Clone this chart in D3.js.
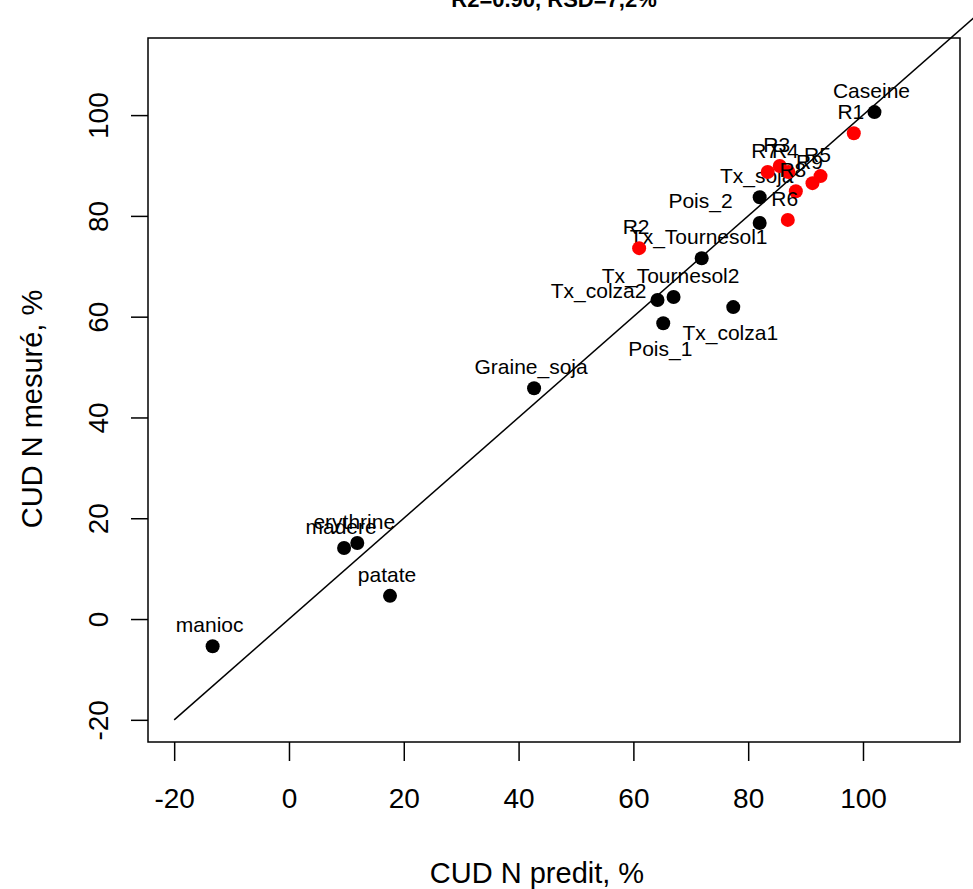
<!DOCTYPE html>
<html>
<head>
<meta charset="utf-8">
<script src="https://cdn.jsdelivr.net/npm/d3@7"></script>
<style>
  body { margin: 0; background: #fff; }
  text { font-family: "Liberation Sans", Arial, sans-serif; fill: #000; }
</style>
</head>
<body>
<div class="render"></div>
<script>
// Aliments (points noirs)
var alimNames = ["Caseine", "Tx_soja", "Pois_2", "Tx_Tournesol1", "Tx_Tournesol2", "Tx_colza2",
                 "Tx_colza1", "Pois_1", "Graine_soja", "erythrine", "madere", "patate", "manioc"];
var alimPred = [102.0, 82.0, 82.0, 71.9, 67.0, 64.2, 77.4, 65.2, 42.7, 11.9, 9.6, 17.6, -13.3];
var alimMes  = [100.6, 83.7, 78.6, 71.6, 63.9, 63.3, 61.9, 58.7, 45.8, 15.1, 14.1, 4.6, -5.4];
// label position, R style: 1 below, 2 left, 3 above, 5 up-left
var alimPos  = [3, 3, 5, 3, 3, 2, 1, 1, 3, 3, 3, 3, 3];

// Regimes (points rouges)
var regNames = ["R1", "R2", "R3", "R4", "R5", "R6", "R7", "R8", "R9"];
var regPred  = [98.4, 61.0, 85.5, 87.0, 92.6, 86.9, 83.4, 88.3, 91.2];
var regMes   = [96.4, 73.6, 89.9, 88.7, 87.9, 79.2, 88.7, 84.9, 86.5];

var xTicks = [-20, 0, 20, 40, 60, 80, 100];
var yTicks = [-20, 0, 20, 40, 60, 80, 100];
var lineEnds = [-20, 125];

var title = "R2=0.90, RSD=7,2%";
var xTitle = "CUD N predit, %";
var yTitle = "CUD N mesuré, %";

var W = 973, H = 889;
var box = {left: 148, right: 960, top: 38, bottom: 742};

var x = d3.scaleLinear().domain([-24.56, 116.9]).range([box.left, box.right]);
var y = d3.scaleLinear().domain([-24.4, 115.3]).range([box.bottom, box.top]);

var svg = d3.select(".render").append("svg")
    .attr("width", W)
    .attr("height", H);

// title (cut at the top of the picture)
svg.append("text")
    .attr("x", (box.left + box.right) / 2)
    .attr("y", 7)
    .attr("text-anchor", "middle")
    .attr("font-weight", "bold")
    .attr("font-size", 22)
    .text(title);

// axes
var xAxis = svg.append("g")
    .attr("transform", "translate(0," + box.bottom + ")")
    .call(d3.axisBottom(x).tickValues(xTicks).tickSize(19).tickFormat(String));
var yAxis = svg.append("g")
    .attr("transform", "translate(" + box.left + ",0)")
    .call(d3.axisLeft(y).tickValues(yTicks).tickSize(17).tickFormat(String));

[xAxis, yAxis].forEach(function (g) {
    g.select(".domain").remove();
    g.selectAll(".tick line").attr("stroke", "#000").attr("stroke-width", 1.5);
    g.selectAll(".tick text").attr("font-size", 28).attr("fill", "#000")
        .style("font-family", "'Liberation Sans', Arial, sans-serif");
});
xAxis.selectAll(".tick text").attr("dy", null).attr("y", 66);
yAxis.selectAll(".tick text")
    .attr("x", null).attr("dy", null)
    .attr("text-anchor", "middle")
    .attr("transform", "translate(-40,0) rotate(-90)");

// box
svg.append("rect")
    .attr("x", box.left)
    .attr("y", box.top)
    .attr("width", box.right - box.left)
    .attr("height", box.bottom - box.top)
    .attr("fill", "none")
    .attr("stroke", "#000")
    .attr("stroke-width", 1.5);

// axis titles
svg.append("text")
    .attr("x", 537)
    .attr("y", 883)
    .attr("text-anchor", "middle")
    .attr("font-size", 29)
    .text(xTitle);
svg.append("text")
    .attr("transform", "translate(42,409) rotate(-90)")
    .attr("text-anchor", "middle")
    .attr("font-size", 29)
    .text(yTitle);

// y = x line (not clipped)
svg.append("line")
    .attr("x1", x(lineEnds[0])).attr("y1", y(lineEnds[0]))
    .attr("x2", x(lineEnds[1])).attr("y2", y(lineEnds[1]))
    .attr("stroke", "#000")
    .attr("stroke-width", 1.5);

var alim = alimNames.map(function (n, i) {
    return {name: n, px: alimPred[i], my: alimMes[i], pos: alimPos[i], col: "#000"};
});
var reg = regNames.map(function (n, i) {
    return {name: n, px: regPred[i], my: regMes[i], pos: 3, col: "#ff0000"};
});

function labelX(d) {
    if (d.pos == 2) return x(d.px) - 11;
    if (d.pos == 5) return x(d.px) - 27;
    return x(d.px) - 3;
}
function labelY(d) {
    if (d.pos == 1) return y(d.my) + 33;
    if (d.pos == 2) return y(d.my) - 2;
    if (d.pos == 5) return y(d.my) - 15;
    return y(d.my) - 14;
}
function labelAnchor(d) {
    return (d.pos == 2 || d.pos == 5) ? "end" : "middle";
}

function drawGroup(data) {
    svg.append("g").selectAll("circle").data(data).enter().append("circle")
        .attr("cx", function (d) { return x(d.px); })
        .attr("cy", function (d) { return y(d.my); })
        .attr("r", 7)
        .attr("fill", function (d) { return d.col; });
    svg.append("g").selectAll("text").data(data).enter().append("text")
        .attr("x", labelX)
        .attr("y", labelY)
        .attr("text-anchor", labelAnchor)
        .attr("font-size", 21)
        .text(function (d) { return d.name; });
}

drawGroup(alim);
drawGroup(reg);
</script>
</body>
</html>
